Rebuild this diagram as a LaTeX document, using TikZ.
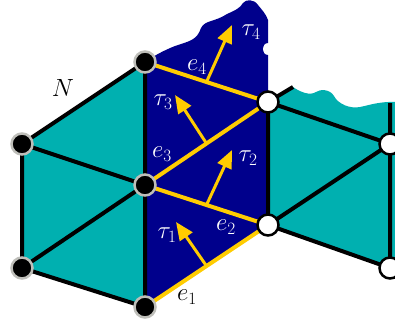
\documentclass[tikz,border=0pt]{standalone}
\usetikzlibrary{arrows.meta}
\definecolor{tealc}{RGB}{0,176,176}
\definecolor{navyc}{RGB}{0,0,140}
\definecolor{yel}{RGB}{255,204,0}
\definecolor{grayb}{RGB}{190,190,185}
\begin{document}
\begin{tikzpicture}[x=1pt,y=-1pt,
 blk/.style={circle,fill=black,draw=grayb,line width=2.5pt,minimum size=21pt,inner sep=0pt},
 wht/.style={circle,fill=white,draw=black,line width=2.5pt,minimum size=21pt,inner sep=0pt},
 edg/.style={line width=4pt,black},
 yedg/.style={line width=4pt,yel},
 nrm/.style={line width=3pt,yel,-{Triangle[length=18pt,width=15pt]}},
 lab/.style={font=\fontsize{26}{30}\selectfont,inner sep=0pt}]
\useasboundingbox (0,0) rectangle (395,325);
\begin{scope}
\clip (0,0) rectangle (395,325);
% coordinates
\coordinate (A) at (145,62);
\coordinate (B) at (22,144);
\coordinate (C) at (145,185);
\coordinate (D) at (22,268);
\coordinate (E) at (145,307);
\coordinate (F) at (268,102);
\coordinate (G) at (268,225);
\coordinate (H) at (390,144);
\coordinate (I) at (390,268);
\coordinate (Fo) at (293,87);
\coordinate (Ht) at (390,103);
% fills
\fill[tealc] (A) -- (B) -- (D) -- (E) -- cycle;
\fill[tealc] (F) -- (Fo) .. controls (300,92) and (310,96) .. (316,92)
  .. controls (320,89) and (330,89) .. (334,96)
  .. controls (338,104) and (350,109) .. (360,107)
  .. controls (370,105) and (380,101) .. (400,102)
  -- (400,270) -- (I) -- (G) -- cycle;
\fill[navyc] (A) .. controls (155,55) and (165,50) .. (175,46)
  .. controls (190,41) and (197,40) .. (201,28)
  .. controls (205,20) and (215,22) .. (227,14)
  .. controls (236,10) and (240,8) .. (243,3)
  .. controls (246,-1) and (254,-1) .. (258,5)
  .. controls (262,10) and (266,14) .. (268,20)
  -- (268,43) .. controls (261,43) and (261,55) .. (268,55)
  -- (F) -- (G) -- (E) -- cycle;
% black edges
\draw[edg] (A) -- (B) (B) -- (C) (B) -- (D) (C) -- (D) (D) -- (E)
  (A) -- (C) (C) -- (E);
\draw[edg] (F) -- (Fo) (F) -- (G) (F) -- (H) (G) -- (H) (G) -- (I)
  (Ht) -- (H) (H) -- (I);
% yellow edges
\draw[yedg] (E) -- (G) (C) -- (G) (C) -- (F) (A) -- (F);
% normals
\coordinate (m1) at (206.5,266); \coordinate (t1) at (176,222);
\coordinate (m2) at (206.5,205); \coordinate (t2) at (232,150);
\coordinate (m3) at (206.5,143.5); \coordinate (t3) at (175,95);
\coordinate (m4) at (206.5,82); \coordinate (t4) at (232,25);
\draw[nrm] (m1) -- (t1);
\draw[nrm] (m2) -- (t2);
\draw[nrm] (m3) -- (t3);
\draw[nrm] (m4) -- (t4);
% nodes
\node[blk] (nA) at (A) {};
\node[blk] (nB) at (B) {};
\node[blk] (nC) at (C) {};
\node[blk] (nD) at (D) {};
\node[blk] (nE) at (E) {};
\node[wht] (nF) at (F) {};
\node[wht] (nG) at (G) {};
\node[wht] (nH) at (H) {};
\node[wht] (nI) at (I) {};
% labels
\node[lab,black] (lN) at (63,88) {$N$};
\node[lab,white] (lt3) at (163,102) {$\tau_3$};
\node[lab,white] (le3) at (162,154) {$e_3$};
\node[lab,white] (le4) at (197,67) {$e_4$};
\node[lab,white] (lt4) at (251,32) {$\tau_4$};
\node[lab,white] (lt2) at (248,158) {$\tau_2$};
\node[lab,white] (le2) at (226,227) {$e_2$};
\node[lab,white] (lt1) at (167,235) {$\tau_1$};
\node[lab,black] (le1) at (187,297) {$e_1$};
\end{scope}
\end{tikzpicture}
\end{document}
